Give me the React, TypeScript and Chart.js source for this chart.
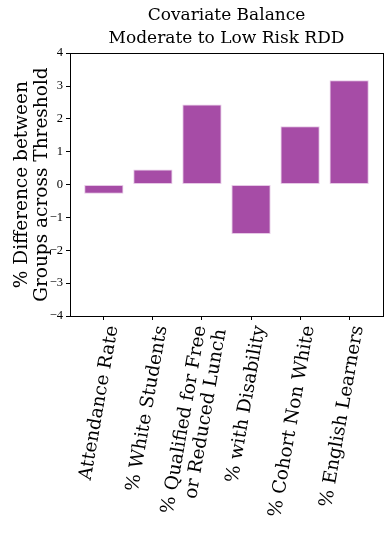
import React, { useEffect, useRef } from 'react';
import { Chart, registerables } from 'chart.js';

Chart.register(...registerables);

const categories: string[][] = [
  ['Attendance Rate'],
  ['% White Students'],
  ['% Qualified for Free', 'or Reduced Lunch'],
  ['% with Disability'],
  ['% Cohort Non White'],
  ['% English Learners'],
];
const values: number[] = [-0.28, 0.46, 2.44, -1.5, 1.78, 3.18];
const titleLines: string[] = ['Covariate Balance', 'Moderate to Low Risk RDD'];
const yTitleLines: string[] = ['% Difference between', 'Groups across Threshold'];
const yMin = -4;
const yMax = 4;

const framePlugin = {
  id: 'frame',
  afterDatasetsDraw(chart: any) {
    const { ctx, chartArea } = chart;
    ctx.save();
    ctx.strokeStyle = '#000';
    ctx.lineWidth = 1;
    ctx.strokeRect(
      Math.round(chartArea.left) + 0.5,
      Math.round(chartArea.top) + 0.5,
      Math.round(chartArea.right - chartArea.left),
      Math.round(chartArea.bottom - chartArea.top)
    );
    ctx.restore();
  },
};

// Center multi-line rotated tick labels on their tick, like matplotlib does.
const centerLabelsPlugin = {
  id: 'centerLabels',
  beforeDraw(chart: any) {
    const sc = chart.scales.x;
    if (!sc || !sc.getLabelItems) return;
    const items = sc.getLabelItems();
    if (!items || items.__centered) return;
    items.forEach((it: any) => {
      const n = Array.isArray(it.label) ? it.label.length : 1;
      if (n > 1 && it.options && it.options.translation) {
        const lh = it.font.lineHeight;
        const s = Math.abs(Math.sin(it.options.rotation || 0));
        it.options.translation[0] -= ((n - 1) * lh * s) / 2;
      }
    });
    items.__centered = true;
  },
};

export default function App() {
  const ref = useRef<HTMLCanvasElement | null>(null);

  useEffect(() => {
    document.body.style.margin = '0';
    const canvas = ref.current;
    if (!canvas) return;
    let chart: any = null;
    let cancelled = false;
    const serif = "'DejaVu Serif', serif";
    const build = () => {
      if (cancelled) return;
      chart = new Chart(canvas, {
        type: 'bar',
        data: {
          datasets: [
            {
              data: values.map((v, i) => ({ x: i, y: v })),
              backgroundColor: 'rgba(128,0,128,0.7)',
              borderColor: '#e6c8e6',
              borderWidth: 1,
              borderSkipped: false,
              barPercentage: 0.8,
              categoryPercentage: 1,
            } as any,
          ],
        },
        options: {
          animation: false,
          responsive: true,
          maintainAspectRatio: false,
          layout: { padding: { left: 0, right: 7, top: 0, bottom: 0 } },
          plugins: {
            legend: { display: false },
            tooltip: { enabled: false },
            title: {
              display: true,
              fullSize: false,
              text: titleLines,
              color: '#000',
              font: { family: serif, size: 17, weight: 'normal', lineHeight: 1.3 },
              padding: { top: 5, bottom: 4 },
            },
          },
          scales: {
            x: {
              type: 'linear',
              offset: false,
              min: -0.69,
              max: 5.69,
              afterBuildTicks: (s: any) => {
                s.ticks = categories.map((_, i) => ({ value: i }));
              },
              afterFit: (s: any) => {
                s.height = 217;
              },
              ticks: {
                autoSkip: false,
                minRotation: 80,
                maxRotation: 80,
                color: '#000',
                padding: 4,
                labelOffset: 9,
                font: { family: serif, size: 18.5, lineHeight: 1.1 },
                callback: (_v: any, i: number) => categories[i],
              },
              grid: {
                display: true,
                offset: false,
                drawOnChartArea: false,
                drawTicks: true,
                tickLength: 4,
                color: '#000',
              },
              border: { display: true, color: '#000' },
            },
            y: {
              type: 'linear',
              min: yMin,
              max: yMax,
              afterFit: (s: any) => {
                s.width = 70;
              },
              ticks: {
                stepSize: 1,
                color: '#000',
                padding: 3,
                font: { family: "'Liberation Serif', serif", size: 12.5 },
                callback: (v: any) => String(v).replace('-', '\u2212'),
              },
              grid: {
                display: true,
                drawOnChartArea: false,
                drawTicks: true,
                tickLength: 4,
                color: '#000',
              },
              border: { display: true, color: '#000' },
              title: {
                display: true,
                text: yTitleLines,
                color: '#000',
                font: { family: serif, size: 18.5, lineHeight: 1.1 },
                padding: { top: 12, bottom: 0 },
              },
            },
          },
        },
        plugins: [framePlugin, centerLabelsPlugin],
      } as any);
    };
    const fonts: any = (document as any).fonts;
    if (fonts && fonts.load) {
      Promise.all([
        fonts.load("17px 'DejaVu Serif'"),
        fonts.load("18px 'DejaVu Serif'"),
        fonts.load("13px 'Liberation Serif'"),
      ])
        .catch(() => null)
        .then(build);
    } else {
      build();
    }
    return () => {
      cancelled = true;
      if (chart) chart.destroy();
    };
  }, []);

  return (
    <div style={{ position: 'relative', width: 390, height: 533 }}>
      <canvas ref={ref} />
    </div>
  );
}
